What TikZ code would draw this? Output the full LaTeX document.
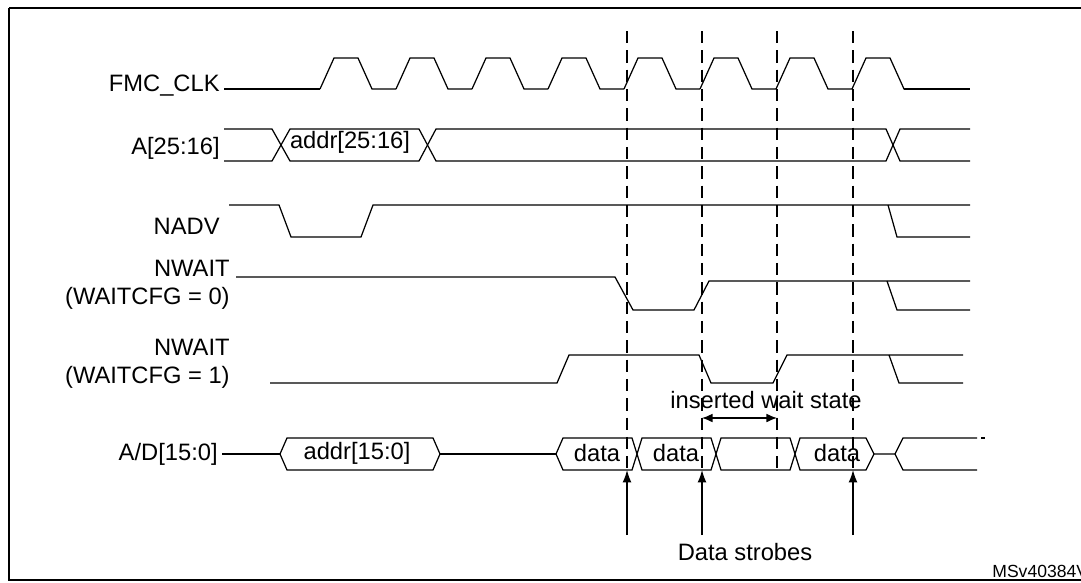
\documentclass[tikz,border=0pt]{standalone}
\usepackage{fontspec}
\setmainfont{Liberation Sans}
\usetikzlibrary{arrows.meta}
\begin{document}
\begin{tikzpicture}[x=0.02cm,y=-0.02cm,line width=0.7pt,
    lbl/.style={anchor=east,font=\fontsize{13.5}{16}\selectfont,align=right,inner sep=1pt},
    txt/.style={font=\fontsize{13.5}{16}\selectfont,inner sep=1pt},
    strobe/.style={dashed,dash pattern=on 7pt off 4pt}]
    \useasboundingbox (0,0) rectangle (1081,582);
    \draw (9,8) -- (1090,8);
    \draw (9,8) -- (9,580) -- (1090,580);
    % labels
    \node[lbl] (clk) at (222,86) {FMC\_CLK};
    \node[lbl] (ahi) at (222,148) {A[25:16]};
    \node[lbl] (nadv) at (222,226) {NADV};
    \node[lbl] (nw0) at (232,285) {NWAIT\\(WAITCFG = 0)};
    \node[lbl] (nw1) at (232,364) {NWAIT\\(WAITCFG = 1)};
    \node[lbl] (ad) at (220,454) {A/D[15:0]};
    % clock
    \draw (224,89) -- (320,89);
    \foreach \k in {0,...,7}
        \draw (320+76*\k,89) -- (334+76*\k,58) -- (358+76*\k,58) -- (372+76*\k,89) -- (396+76*\k,89);
    \draw (904,89) -- (970,89);
    % A[25:16]
    \draw (224,129) -- (272,129) -- (290,161) -- (419,161) -- (436,129) -- (886,129) -- (900,161) -- (970,161);
    \draw (224,161) -- (272,161) -- (290,129) -- (419,129) -- (436,161) -- (886,161) -- (900,129) -- (970,129);
    \node[txt] (ahiv) at (350,142) {addr[25:16]};
    % NADV
    \draw (229,205) -- (279,205) -- (291,237) -- (361,237) -- (373,205) -- (970,205);
    \draw (888,205) -- (897,237) -- (970,237);
    % NWAIT, WAITCFG = 0
    \draw (236,277) -- (615,277) -- (633,310) -- (694,310) -- (709,281) -- (970,281);
    \draw (887,281) -- (897,310) -- (970,310);
    % NWAIT, WAITCFG = 1
    \draw (270,383) -- (557,383) -- (569,355) -- (699,355) -- (711,383) -- (773,383) -- (787,355) -- (963,355);
    \draw (889,355) -- (899,383) -- (963,383);
    % A/D[15:0]
    \draw (222,454) -- (280,454);
    \draw (280,454) -- (287,438) -- (433,438) -- (440,454) -- (433,470) -- (287,470) -- cycle;
    \draw (440,454) -- (556,454);
    \draw (556,454) -- (563,438) -- (632,438) -- (642,470) -- (711,470) -- (721,438) -- (790,438) -- (800,470) -- (866,470) -- (874,454);
    \draw (556,454) -- (563,470) -- (632,470) -- (642,438) -- (711,438) -- (721,470) -- (790,470) -- (800,438) -- (866,438) -- (874,454);
    \draw (874,454) -- (895,454) -- (903,438) -- (977,438);
    \draw (895,454) -- (903,470) -- (977,470);
    \draw (981,438) -- (985,438);
    \node[txt] (adv) at (357,453) {addr[15:0]};
    \node[txt] (d1) at (597,453) {data};
    \node[txt] (d2) at (676,453) {data};
    \node[txt] (d4) at (837,453) {data};
    % dashed clock edges
    \foreach \x in {627,702,777,853}
        \draw[strobe] (\x,31) -- (\x,470);
    % strobes
    \coordinate (s1) at (627,535);
    \coordinate (s2) at (702,535);
    \coordinate (s4) at (853,535);
    \coordinate (e1) at (627,470);
    \coordinate (e2) at (702,470);
    \coordinate (e4) at (853,470);
    \draw[-{Latex[length=7pt,width=5pt]}] (s1) -- (e1);
    \draw[-{Latex[length=7pt,width=5pt]}] (s2) -- (e2);
    \draw[-{Latex[length=7pt,width=5pt]}] (s4) -- (e4);
    \node[txt] (ds) at (745,552) {Data strobes};
    % inserted wait state
    \coordinate (w1) at (702,418);
    \coordinate (w2) at (777,418);
    \draw[{Latex[length=6pt,width=5pt]}-{Latex[length=6pt,width=5pt]}] (w1) -- (w2);
    \node[txt] (ws) at (766,400) {inserted wait state};
    \node[txt,anchor=west,font=\fontsize{10}{12}\selectfont] (ref) at (990,571) {MSv40384V4};
\end{tikzpicture}
\end{document}
